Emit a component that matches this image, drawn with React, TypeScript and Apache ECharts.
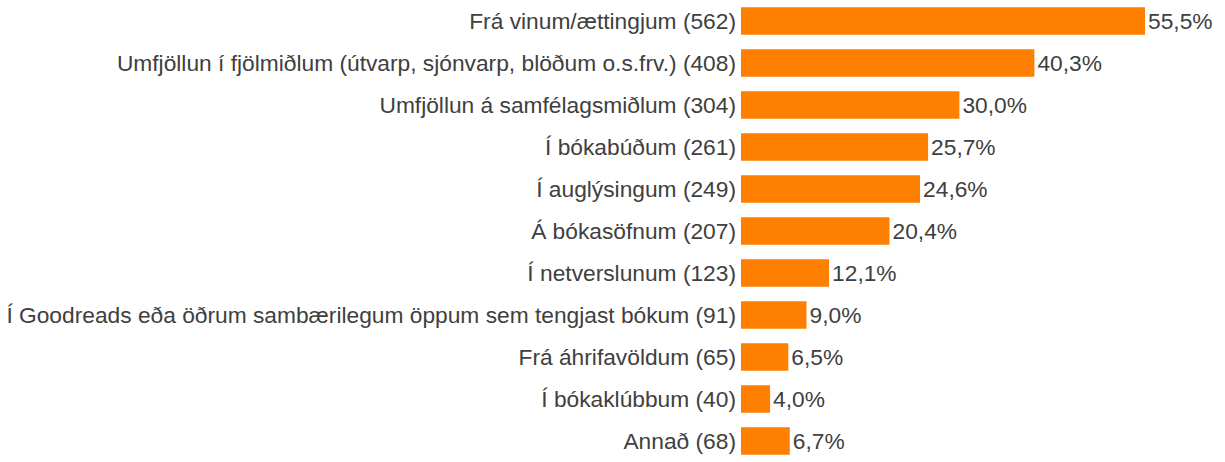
import React, { useEffect, useRef } from "react";
import * as echarts from "echarts";

const categories = [
  "Frá vinum/ættingjum",
  "Umfjöllun í fjölmiðlum (útvarp, sjónvarp, blöðum o.s.frv.)",
  "Umfjöllun á samfélagsmiðlum",
  "Í bókabúðum",
  "Í auglýsingum",
  "Á bókasöfnum",
  "Í netverslunum",
  "Í Goodreads eða öðrum sambærilegum öppum sem tengjast bókum",
  "Frá áhrifavöldum",
  "Í bókaklúbbum",
  "Annað",
];
const counts = [562, 408, 304, 261, 249, 207, 123, 91, 65, 40, 68];
const percents = [55.5, 40.3, 30.0, 25.7, 24.6, 20.4, 12.1, 9.0, 6.5, 4.0, 6.7];

export default function App() {
  const ref = useRef<HTMLDivElement>(null);
  useEffect(() => {
    if (!ref.current) return;
    const chart = echarts.init(ref.current, null, { renderer: "svg" });
    const labels = categories.map((c, i) => `${c} (${counts[i]})`);
    chart.setOption({
      animation: false,
      grid: { left: 741, top: -2.8, width: 436.8, height: 470 },
      xAxis: {
        type: "value",
        min: 0,
        max: 60,
        show: false,
      },
      yAxis: {
        type: "category",
        inverse: true,
        data: labels,
        axisLine: { show: false },
        axisTick: { show: false },
        axisLabel: {
          margin: 5,
          fontSize: 22.75,
          color: "#404040",
          fontFamily: "Liberation Sans, Arial, sans-serif",
        },
      },
      series: [
        {
          type: "bar",
          data: percents,
          barCategoryGap: "34.5%",
          itemStyle: { color: "#FF8000" },
          label: {
            show: true,
            position: "right",
            distance: 3,
            fontSize: 22.75,
            color: "#404040",
            fontFamily: "Liberation Sans, Arial, sans-serif",
            formatter: (p: any) => p.value.toFixed(1).replace(".", ",") + "%",
          },
        },
      ],
    });
    return () => chart.dispose();
  }, []);
  return (
    <div
      ref={ref}
      style={{ position: "absolute", left: 0, top: 0, width: 1225, height: 462 }}
    />
  );
}
